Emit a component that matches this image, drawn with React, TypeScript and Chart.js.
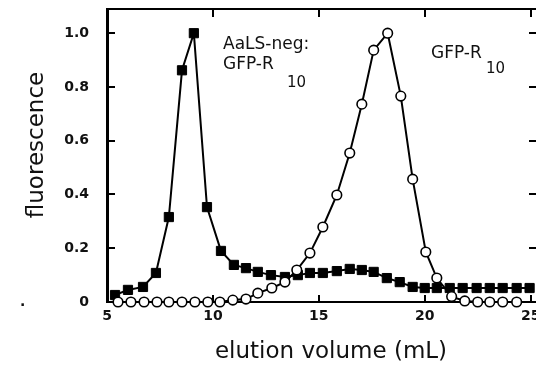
import React, { useEffect, useRef } from "react";
import { Chart, registerables } from "chart.js";

Chart.register(...registerables);

// ---- data ----
const squareX = [5.38, 5.99, 6.7, 7.31, 7.92, 8.54, 9.1, 9.72, 10.38, 10.99, 11.56, 12.12, 12.74, 13.4, 14.01, 14.58, 15.19, 15.85, 16.46, 17.03, 17.59, 18.21, 18.82, 19.43, 20.0, 20.57, 21.18, 21.79, 22.45, 23.07, 23.68, 24.34, 24.95];
const squareY = [0.026, 0.045, 0.056, 0.108, 0.316, 0.862, 1.0, 0.353, 0.19, 0.138, 0.126, 0.112, 0.1, 0.093, 0.1, 0.108, 0.108, 0.115, 0.123, 0.119, 0.112, 0.089, 0.074, 0.056, 0.052, 0.052, 0.052, 0.052, 0.052, 0.052, 0.052, 0.052, 0.052];
const circleX = [5.52, 6.13, 6.75, 7.36, 7.92, 8.54, 9.15, 9.76, 10.33, 10.94, 11.56, 12.12, 12.78, 13.4, 13.96, 14.58, 15.19, 15.85, 16.46, 17.03, 17.59, 18.25, 18.87, 19.43, 20.05, 20.57, 21.27, 21.89, 22.5, 23.07, 23.68, 24.34];
const circleY = [0, 0, 0, 0, 0, 0, 0, 0, 0, 0.007, 0.011, 0.033, 0.052, 0.074, 0.119, 0.182, 0.279, 0.398, 0.554, 0.736, 0.937, 1.0, 0.766, 0.457, 0.186, 0.089, 0.02, 0.004, 0, 0, 0, 0];
const xTicks = [5, 10, 15, 20, 25];
const yTicks = [0, 0.2, 0.4, 0.6, 0.8, 1.0];
const xTitle = "elution volume (mL)";
const yTitle = "fluorescence";
const leftLabelLines = ["AaLS-neg:", "GFP-R"];
const leftLabelSub = "10";
const rightLabel = "GFP-R";
const rightLabelSub = "10";
const strayMark = ".";

const FONT = "'DejaVu Sans', sans-serif";

const decorPlugin = {
  id: "decor",
  beforeDatasetsDraw(chart: any) {
    const { ctx, chartArea: a, scales } = chart;
    const x = scales.x;
    const y = scales.y;
    ctx.save();
    ctx.strokeStyle = "#000";
    ctx.lineWidth = 2;
    ctx.beginPath();
    ctx.moveTo(a.left, a.top);
    ctx.lineTo(a.right, a.top);
    ctx.lineTo(a.right, a.bottom);
    ctx.stroke();
    ctx.beginPath();
    xTicks.forEach((v) => {
      const px = Math.round(x.getPixelForValue(v));
      ctx.moveTo(px, a.bottom);
      ctx.lineTo(px, a.bottom - 7);
      ctx.moveTo(px, a.top);
      ctx.lineTo(px, a.top + 8);
    });
    yTicks.forEach((v) => {
      const py = Math.round(y.getPixelForValue(v));
      ctx.moveTo(a.left, py);
      ctx.lineTo(a.left + 8, py);
      ctx.moveTo(a.right, py);
      ctx.lineTo(a.right - 8, py);
    });
    ctx.stroke();
    ctx.restore();
  },
  afterDraw(chart: any) {
    const { ctx } = chart;
    ctx.save();
    ctx.fillStyle = "#111";
    // axis titles
    ctx.font = `23px ${FONT}`;
    ctx.textAlign = "center";
    ctx.textBaseline = "alphabetic";
    ctx.fillText(xTitle, 331, 358);
    ctx.save();
    ctx.translate(43, 145);
    ctx.rotate(-Math.PI / 2);
    ctx.fillText(yTitle, 0, 0);
    ctx.restore();
    // annotations
    ctx.textAlign = "left";
    ctx.font = `17px ${FONT}`;
    ctx.fillText(leftLabelLines[0], 223, 49);
    ctx.fillText(leftLabelLines[1], 223, 69);
    ctx.fillText(rightLabel, 431, 58);
    ctx.font = `15px ${FONT}`;
    ctx.fillText(leftLabelSub, 287, 87);
    ctx.fillText(rightLabelSub, 486, 73);
    ctx.font = `bold 14px ${FONT}`;
    ctx.fillText(strayMark, 20, 306);
    ctx.restore();
  },
};

export default function App() {
  const ref = useRef<HTMLCanvasElement | null>(null);
  useEffect(() => {
    if (!ref.current) return;
    const chart = new Chart(ref.current, {
      type: "line",
      data: {
        datasets: [
          {
            label: "GFP-R10",
            data: circleX.map((x, i) => ({ x, y: circleY[i] })),
            borderColor: "#000",
            borderWidth: 2,
            pointStyle: "circle",
            pointRadius: 4.8,
            pointBorderWidth: 1.6,
            pointBackgroundColor: "#fff",
            pointBorderColor: "#000",
            order: 0,
            clip: false,
            tension: 0,
          } as any,
          {
            label: "AaLS-neg: GFP-R10",
            data: squareX.map((x, i) => ({ x, y: squareY[i] })),
            borderColor: "#000",
            borderWidth: 2,
            pointStyle: "rect",
            pointRadius: 6.5,
            pointBorderWidth: 1,
            pointBackgroundColor: "#000",
            pointBorderColor: "#000",
            order: 1,
            clip: false,
            tension: 0,
          } as any,
        ],
      },
      options: {
        responsive: false,
        animation: false,
        devicePixelRatio: 1,
        layout: { autoPadding: false, padding: { top: 9, right: 43, left: 0, bottom: 0 } },
        plugins: { legend: { display: false }, tooltip: { enabled: false }, title: { display: false } },
        scales: {
          x: {
            type: "linear",
            min: 5,
            max: 25.3,
            afterFit: (s: any) => {
              s.height = 64;
              s.paddingLeft = 0;
              s.paddingRight = 0;
            },
            afterBuildTicks: (s: any) => {
              s.ticks = xTicks.map((v) => ({ value: v }));
            },
            ticks: {
              padding: 6,
              color: "#111",
              maxRotation: 0,
              autoSkip: false,
              font: { family: FONT, size: 14, weight: "bold" },
              callback: (v: any) => String(v),
            },
            grid: { display: false, drawTicks: false },
            border: { display: true, width: 2, color: "#000" },
          },
          y: {
            type: "linear",
            min: 0,
            max: 1.09,
            afterFit: (s: any) => {
              s.width = 107;
              s.paddingTop = 0;
              s.paddingBottom = 0;
            },
            afterBuildTicks: (s: any) => {
              s.ticks = yTicks.map((v) => ({ value: v }));
            },
            ticks: {
              padding: 18,
              color: "#111",
              autoSkip: false,
              font: { family: FONT, size: 14, weight: "bold" },
              callback: (v: any) => (Number(v) === 0 ? "0" : Number(v).toFixed(1)),
            },
            grid: { display: false, drawTicks: false },
            border: { display: true, width: 3, color: "#000" },
          },
        },
      } as any,
      plugins: [decorPlugin],
    });
    return () => chart.destroy();
  }, []);
  return (
    <div
      style={{
        position: "fixed",
        left: 0,
        top: 0,
        width: 536,
        height: 366,
        overflow: "hidden",
        background: "#fff",
      }}
    >
      <canvas ref={ref} width={580} height={366} style={{ width: 580, height: 366, display: "block" }} />
    </div>
  );
}
